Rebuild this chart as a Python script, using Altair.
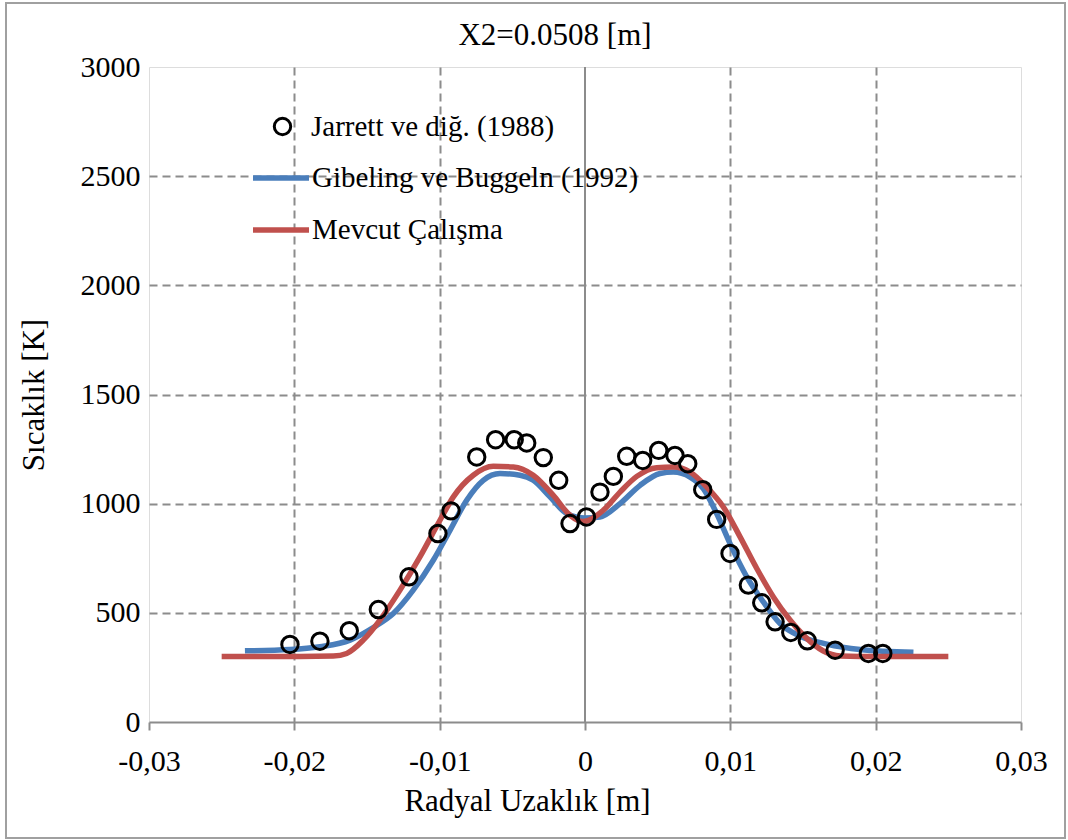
import json
import altair as alt
import pandas as pd

FONT = "Liberation Serif"

# ---- data ----
exp_name = "Jarrett ve diğ. (1988)"
exp_x = [-0.0203, -0.01824, -0.01622, -0.01422, -0.01211, -0.01012, -0.00922, -0.00745,
         -0.00615, -0.00487, -0.00401, -0.00287, -0.00181, -0.00103, 0.0001,
         0.00103, 0.00195, 0.00287, 0.00397, 0.00507, 0.00619, 0.00707, 0.0081,
         0.00906, 0.00998, 0.01124, 0.01216, 0.01308, 0.01416, 0.0153, 0.01721,
         0.0195, 0.02049]
exp_T = [355, 370, 418, 515, 665, 863, 967, 1214,
         1293, 1293, 1278, 1211, 1107, 909, 939,
         1053, 1125, 1217, 1198, 1244, 1221, 1183, 1064,
         928, 772, 627, 546, 459, 410, 372, 329,
         314, 314]

gib_name = "Gibeling ve Buggeln (1992)"
gib_x = [-0.0234, -0.0203, -0.01824, -0.01617, -0.01457, -0.01319, -0.01182, -0.01044,
         -0.00929, -0.00814, -0.0070, -0.00585, -0.00447, -0.00356, -0.00241, -0.00126,
         0.0, 0.00103, 0.00241, 0.00379, 0.00516, 0.00608, 0.00723, 0.00814,
         0.00906, 0.00998, 0.01113, 0.01227, 0.01342, 0.0148, 0.01663, 0.01893, 0.0226]
gib_T = [326, 332, 345, 375, 433, 497, 604, 741,
         878, 1016, 1107, 1138, 1130, 1107, 1031, 955,
         934, 939, 1000, 1084, 1138, 1145, 1122, 1069,
         955, 817, 665, 550, 451, 393, 357, 332, 319]

mev_name = "Mevcut Çalışma"
mev_x = [-0.025, -0.01961, -0.01732, -0.0164, -0.01526, -0.01411, -0.01273, -0.01136,
         -0.00998, -0.00906, -0.00769, -0.00631, -0.00493, -0.00356, -0.00218, -0.00103,
         -0.00012, 0.00126, 0.00241, 0.00356, 0.00493, 0.00608, 0.00723, 0.00838,
         0.00952, 0.01067, 0.01182, 0.01296, 0.01411, 0.01526, 0.0164, 0.01755,
         0.01893, 0.025]
mev_T = [300, 300, 302, 314, 375, 467, 604, 756,
         924, 1031, 1130, 1171, 1168, 1130, 1038, 947,
         918, 970, 1053, 1125, 1165, 1168, 1145, 1076,
         985, 848, 703, 573, 467, 383, 325, 302,
         300, 300]

x_ticks = [-0.03, -0.02, -0.01, 0, 0.01, 0.02, 0.03]
x_tick_labels = ["-0,03", "-0,02", "-0,01", "0", "0,01", "0,02", "0,03"]
y_ticks = [0, 500, 1000, 1500, 2000, 2500, 3000]

line_names = [gib_name, mev_name]
line_colors = ["#4A7EBB", "#C0504D"]

# ---- tables ----
exp_df = pd.DataFrame({"x": exp_x, "T": exp_T, "series": exp_name})
lines_df = pd.concat([
    pd.DataFrame({"x": gib_x, "T": gib_T, "series": gib_name}),
    pd.DataFrame({"x": mev_x, "T": mev_T, "series": mev_name}),
])

x_scale = alt.Scale(domain=[-0.03, 0.03], nice=False, zero=False)
y_scale = alt.Scale(domain=[0, 3000], nice=False)

x_label_expr = json.dumps(x_tick_labels) + "[round(datum.value*100)+3]"

x_axis = alt.Axis(
    values=x_ticks, labelExpr=x_label_expr,
    title="Radyal Uzaklık [m]", titleFont=FONT, titleFontSize=31, titleFontWeight="normal",
    titleColor="black", titleX=378, titleY=88, titleBaseline="alphabetic",
    labelFont=FONT, labelFontSize=30, labelColor="black", labelBaseline="alphabetic",
    labelPadding=40, labelFlush=False,
    tickSize=8, tickColor="#8c8c8c", tickWidth=2,
    domainColor="#8c8c8c", domainWidth=2,
    grid=True, gridColor="#8c8c8c", gridWidth=2, gridDash=[8, 5],
    gridOpacity=alt.condition("datum.value == 0 || abs(datum.value) > 0.025", alt.value(0), alt.value(1)),
)
y_axis = alt.Axis(
    values=y_ticks, format="d",
    title="Sıcaklık [K]", titleFont=FONT, titleFontSize=31, titleFontWeight="normal",
    titleColor="black", titlePadding=30,
    labelFont=FONT, labelFontSize=30, labelColor="black", labelPadding=9,
    ticks=False, domain=False,
    grid=True, gridColor="#8c8c8c", gridWidth=2, gridDash=[8, 5],
    gridOpacity=alt.condition("datum.value == 0 || datum.value == 3000", alt.value(0), alt.value(1)),
)

frame = alt.Chart(pd.DataFrame({"a": [0]})).mark_rect(
    filled=False, stroke="#a0a0a0", strokeWidth=2
).encode(x=alt.value(-143), x2=alt.value(916), y=alt.value(-64), y2=alt.value(771))

zero_line = alt.Chart(pd.DataFrame({"x0": [0]})).mark_rule(
    color="#8c8c8c", strokeWidth=2
).encode(x=alt.X("x0:Q", scale=x_scale, axis=x_axis))

lines = alt.Chart(lines_df).mark_line(strokeWidth=5.5, interpolate="monotone").encode(
    x=alt.X("x:Q", scale=x_scale, axis=x_axis),
    y=alt.Y("T:Q", scale=y_scale, axis=y_axis),
    color=alt.Color(
        "series:N",
        scale=alt.Scale(domain=line_names, range=line_colors),
        legend=alt.Legend(
            title=None, orient="none", legendX=101, legendY=80, padding=0,
            symbolType="stroke", symbolSize=3136, symbolStrokeWidth=5.5,
            labelFont=FONT, labelFontSize=29, labelColor="black", labelOffset=0,
            rowPadding=6, labelLimit=600,
        ),
    ),
)

points = alt.Chart(exp_df).mark_point(
    filled=False, color="black", strokeWidth=3, size=270, opacity=1
).encode(
    x=alt.X("x:Q", scale=x_scale, axis=x_axis),
    y=alt.Y("T:Q", scale=y_scale, axis=y_axis),
    shape=alt.Shape(
        "series:N",
        scale=alt.Scale(domain=[exp_name], range=["circle"]),
        legend=alt.Legend(
            title=None, orient="none", legendX=119, legendY=45, padding=0,
            symbolSize=270, symbolStrokeWidth=3, symbolStrokeColor="black",
            symbolFillColor="transparent",
            labelFont=FONT, labelFontSize=29, labelColor="black", labelOffset=14,
            labelLimit=600,
        ),
    ),
)

chart = alt.layer(frame, zero_line, lines, points).properties(
    width=872, height=655,
    title=alt.TitleParams("X2=0.0508 [m]", font=FONT, fontSize=31, fontWeight="normal",
                          color="black", offset=16, dx=-30, dy=66),
    autosize=alt.AutoSizeParams(type="none"),
    padding={"left": 149, "top": 67, "right": 47, "bottom": 118},
).configure_view(stroke="black", strokeWidth=2).configure(background="white")

chart.save("out.html", embed_options={"renderer": "svg", "actions": False})
